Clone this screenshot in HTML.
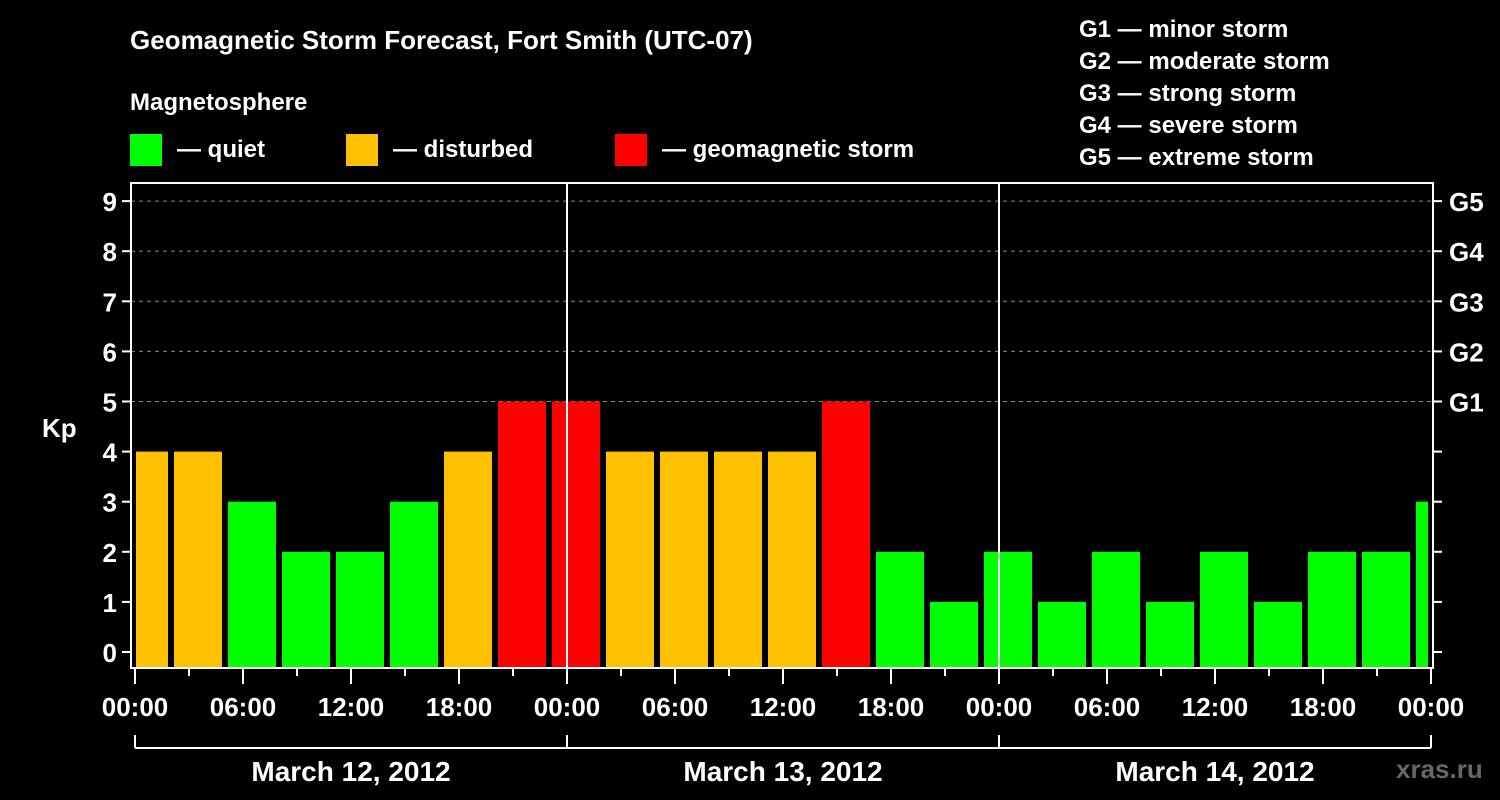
<!DOCTYPE html>
<html><head><meta charset="utf-8"><style>
body{margin:0;background:#000;}
svg{display:block;font-family:"Liberation Sans",Arial,sans-serif;font-weight:bold;}
</style></head><body>
<svg id="chart" width="1500" height="800" viewBox="0 0 1500 800">
<rect width="1500" height="800" fill="#000"/>
<text x="130" y="49" fill="#fff" font-size="26">Geomagnetic Storm Forecast, Fort Smith (UTC-07)</text>
<text x="130" y="110" fill="#fff" font-size="24">Magnetosphere</text>
<g><rect x="130" y="134" width="32" height="32" fill="#00ff00"/><text x="177" y="157" fill="#fff" font-size="24">— quiet</text></g>
<g><rect x="346" y="134" width="32" height="32" fill="#ffc000"/><text x="393" y="157" fill="#fff" font-size="24">— disturbed</text></g>
<g><rect x="615" y="134" width="32" height="32" fill="#ff0000"/><text x="662" y="157" fill="#fff" font-size="24">— geomagnetic storm</text></g>
<g fill="#fff" font-size="24">
<text x="1079" y="37">G1 — minor storm</text>
<text x="1079" y="69">G2 — moderate storm</text>
<text x="1079" y="101">G3 — strong storm</text>
<text x="1079" y="133">G4 — severe storm</text>
<text x="1079" y="165">G5 — extreme storm</text>
</g>
<text x="42" y="437" fill="#fff" font-size="26">Kp</text>
<text x="1396" y="778" fill="#666" font-size="26">xras.ru</text>
<g id="plot"></g>
</svg>
<script>
const kpValues=[4,4,3,2,2,3,4,5,5,4,4,4,4,5,2,1,2,1,2,1,2,1,2,2,3];
const yTicks=[0,1,2,3,4,5,6,7,8,9];
const gLabels=["G1","G2","G3","G4","G5"];
const gLevels=[5,6,7,8,9];
const timeLabels=["00:00","06:00","12:00","18:00"];
const dayLabels=["March 12, 2012","March 13, 2012","March 14, 2012"];
const firstBarStartHour=-1;

const NS="http://www.w3.org/2000/svg";
const g=document.getElementById('plot');
const L=131,R=1433,T=183,B=668,X0=135,PXH=18;
const xh=h=>X0+h*PXH;
const y=v=>652-v*50.1;
function el(t,a,p){const e=document.createElementNS(NS,t);for(const k in a)e.setAttribute(k,a[k]);(p||g).appendChild(e);return e;}
// grid
gLevels.forEach((v,i)=>{
 const l=el('line',{x1:L,x2:R,y1:y(v),y2:y(v),stroke:'#888','stroke-dasharray':'4,4','stroke-width':1});
 
 
 const t=el('text',{x:1449,y:y(v)+10,fill:'#fff','font-size':26});
 t.textContent=gLabels[i];
 
 
});
// bars
kpValues.forEach((v,i)=>{
 const h0=firstBarStartHour+3*i;
 let x1=xh(h0)+3,x2=xh(h0+3)-3;
 x1=Math.max(x1,L+5);x2=Math.min(x2,R-5);
 const c=v>=5?'#ff0000':(v>=4?'#ffc000':'#00ff00');
 const r=el('rect',{x:x1,y:y(v),width:x2-x1,height:B-y(v),fill:c});
 
 
});
// day separators
for(let d=1;d<3;d++){const l=el('line',{x1:xh(24*d),x2:xh(24*d),y1:T,y2:B,stroke:'#fff','stroke-width':2});
 
 }
// frame
const f=el('rect',{x:L,y:T,width:R-L,height:B-T,fill:'none',stroke:'#fff','stroke-width':2});


// y ticks
yTicks.forEach(v=>{
 el('line',{x1:L-9,x2:L,y1:y(v),y2:y(v),stroke:'#fff','stroke-width':2});
 el('line',{x1:R,x2:R+9,y1:y(v),y2:y(v),stroke:'#fff','stroke-width':2});
 const t=el('text',{x:117,y:y(v)+10,fill:'#fff','font-size':26,'text-anchor':'end'});
 t.textContent=v;
 
 
});
// x ticks
for(let h=0;h<=72;h+=3){
 const major=h%6===0;
 el('line',{x1:xh(h),x2:xh(h),y1:B+1,y2:B+(major?16:8),stroke:'#fff','stroke-width':2});
 if(major&&h%6===0){const t=el('text',{x:xh(h),y:716,fill:'#fff','font-size':26,'text-anchor':'middle'});
  t.textContent=timeLabels[(h/6)%4];
  
  }
}
// day bracket
el('line',{x1:xh(0),x2:xh(72),y1:748,y2:748,stroke:'#fff','stroke-width':2});
for(let d=0;d<=3;d++)el('line',{x1:xh(24*d),x2:xh(24*d),y1:735,y2:748,stroke:'#fff','stroke-width':2});
dayLabels.forEach((s,i)=>{const t=el('text',{x:xh(24*i+12),y:781,fill:'#fff','font-size':28,'text-anchor':'middle'});
 t.textContent=s;
 
 });
</script>
</body></html>
